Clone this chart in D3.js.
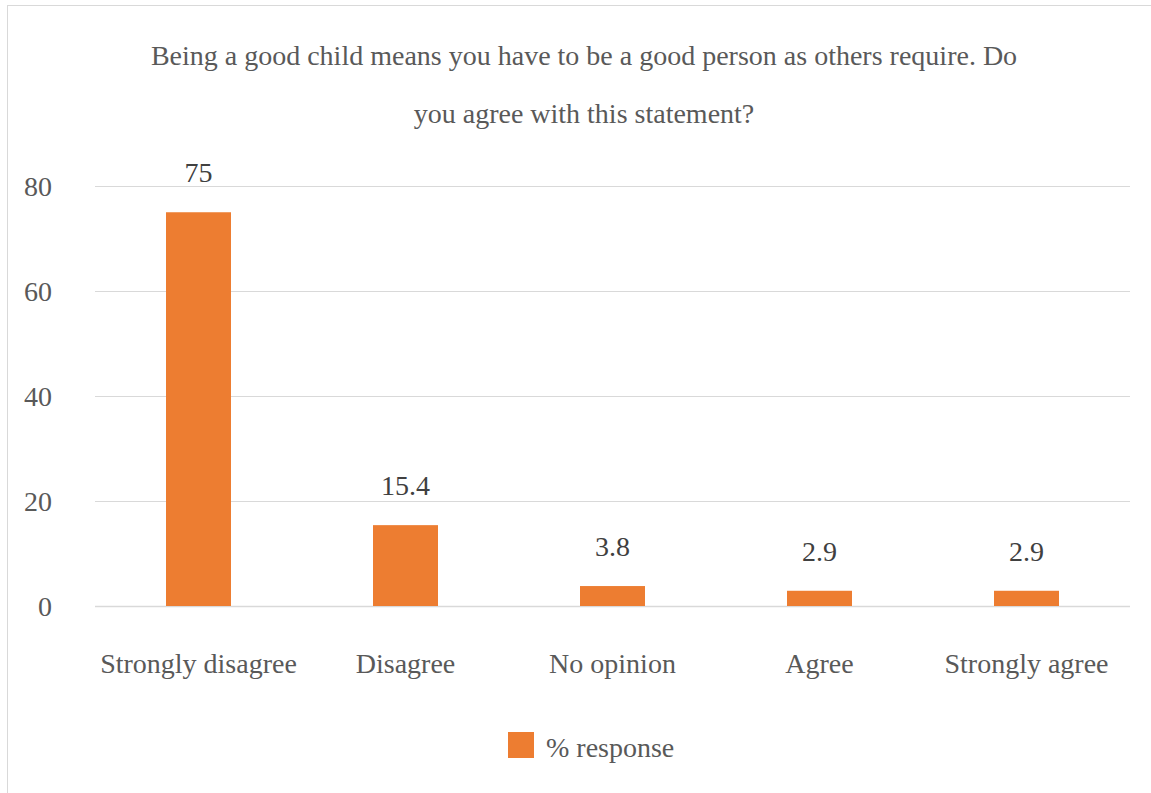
<!DOCTYPE html>
<html>
<head>
<meta charset="utf-8">
<script src="https://cdn.jsdelivr.net/npm/d3@7"></script>
<style>
  html, body { margin: 0; padding: 0; background: #fff; }
  svg { display: block; }
</style>
</head>
<body>
<svg id="chart" width="1151" height="793"></svg>
<script>
// Survey responses (% of respondents)
const categories = ["Strongly disagree", "Disagree", "No opinion", "Agree", "Strongly agree"];
const responses = [75, 15.4, 3.8, 2.9, 2.9];
const yTicks = [0, 20, 40, 60, 80];
const titleLines = [
  "Being a good child means you have to be a good person as others require. Do",
  "you agree with this statement?"
];
const seriesName = "% response";

const FONT = "'Liberation Serif', 'Times New Roman', Times, serif";
const FS = 28;
const svg = d3.select("#chart");
const W = 1151, H = 793;
const plot = { left: 95, right: 1130, top: 186, bottom: 606 };

// Chart area border
svg.append("rect")
  .attr("x", 7.5).attr("y", 5.5)
  .attr("width", W + 20).attr("height", H + 20)
  .attr("fill", "#fff").attr("stroke", "#d9d9d9").attr("stroke-width", 1);

const x = d3.scaleBand().domain(categories)
  .range([plot.left, plot.right]).paddingInner(0.686).paddingOuter(0.343);
const y = d3.scaleLinear().domain([0, 80]).range([plot.bottom, plot.top]);

// Title
svg.append("g").selectAll("text").data(titleLines).join("text")
  .attr("x", 584).attr("y", (d, i) => 65 + i * 58)
  .attr("text-anchor", "middle")
  .attr("font-family", FONT)
  .attr("font-size", FS).attr("fill", "#595959")
  .text(d => d);

// Gridlines
svg.append("g").selectAll("line").data(yTicks).join("line")
  .attr("x1", plot.left).attr("x2", plot.right)
  .attr("y1", d => Math.round(y(d)) + 0.5).attr("y2", d => Math.round(y(d)) + 0.5)
  .attr("stroke", "#d9d9d9").attr("stroke-width", d => d === 0 ? 1.5 : 1);

// Y axis labels
const yAxis = d3.axisLeft(y).tickValues(yTicks).tickSize(0).tickPadding(0);
const gy = svg.append("g").attr("transform", "translate(52,0)").call(yAxis)
  .attr("font-family", FONT);
gy.select(".domain").remove();
gy.selectAll("text")
  .attr("font-size", FS).attr("fill", "#595959").attr("dy", "0.33em");

// Bars
svg.append("g").selectAll("rect").data(responses).join("rect")
  .attr("x", (d, i) => x(categories[i]))
  .attr("width", x.bandwidth())
  .attr("y", d => y(d))
  .attr("height", d => y(0) - y(d))
  .attr("fill", "#ed7d31");

// Value labels
svg.append("g").selectAll("text").data(responses).join("text")
  .attr("x", (d, i) => x(categories[i]) + x.bandwidth() / 2)
  .attr("y", d => y(d) - 30)
  .attr("text-anchor", "middle")
  .attr("font-family", FONT)
  .attr("font-size", FS).attr("fill", "#404040")
  .text(d => d);

// Category axis
const xAxis = d3.axisBottom(x).tickSize(0).tickPadding(0);
const gx = svg.append("g").attr("transform", `translate(0,${plot.bottom})`).call(xAxis)
  .attr("font-family", FONT);
gx.select(".domain").remove();
gx.selectAll("text")
  .attr("font-size", FS).attr("fill", "#595959")
  .attr("dy", 0).attr("y", 67);

// Legend
const lg = svg.append("g");
lg.append("rect").attr("x", 508).attr("y", 732).attr("width", 26).attr("height", 26).attr("fill", "#ed7d31");
lg.append("text").attr("x", 546).attr("y", 757)
  .attr("font-family", FONT)
  .attr("font-size", FS).attr("fill", "#595959").text(seriesName);
</script>
</body>
</html>
